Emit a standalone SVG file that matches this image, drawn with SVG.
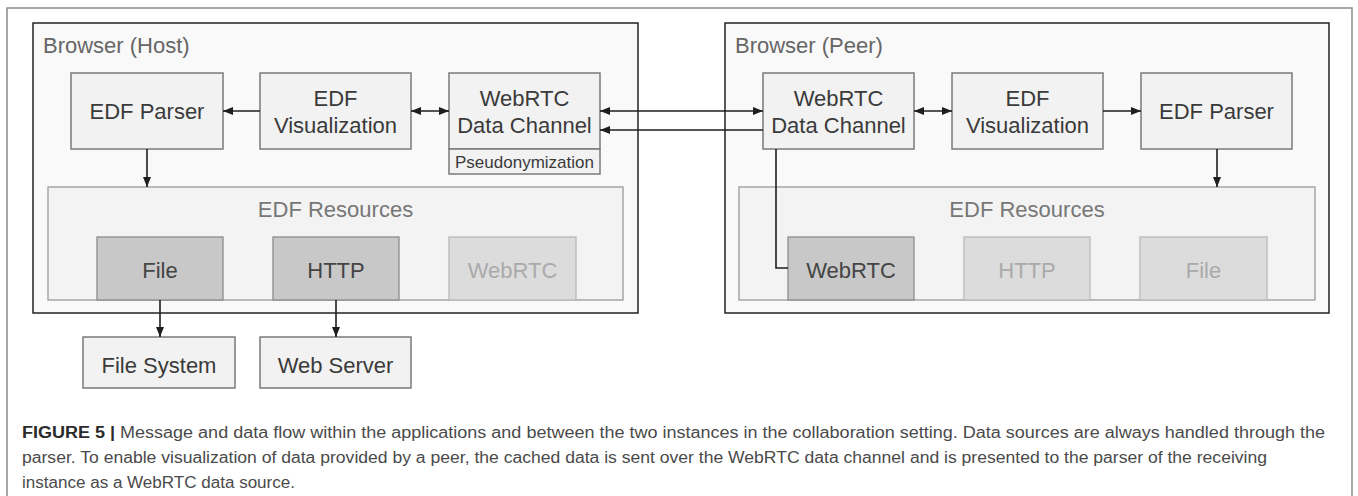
<svg xmlns="http://www.w3.org/2000/svg" width="1358" height="496" viewBox="0 0 1358 496">
<style>
text{font-family:"Liberation Sans",Arial,sans-serif}
.frame{fill:#ffffff;stroke:#8a8a8a;stroke-width:1.5}
.browser{fill:#f9f9f9;stroke:#222;stroke-width:1.5}
.btitle{font-size:22px;fill:#666}
.node{fill:#f2f2f2;stroke:#7a7a7a;stroke-width:1.5}
.nt{font-size:22px;fill:#3a3a3a;text-anchor:middle}
.small{font-size:17px;fill:#3a3a3a;text-anchor:middle}
.res{fill:#f3f3f3;stroke:#9a9a9a;stroke-width:1.3}
.rt{font-size:22px;fill:#777;text-anchor:middle}
.on{fill:#c8c8c8;stroke:#8c8c8c;stroke-width:1.3}
.ont{font-size:22px;fill:#444;text-anchor:middle}
.off{fill:#dcdcdc;stroke:#b8b8b8;stroke-width:1.3}
.offt{font-size:22px;fill:#aaa;text-anchor:middle}
.conn line,.conn path{stroke:#1e1e1e;stroke-width:1.6;fill:none}
.cap{font-size:16px;fill:#4a4a4a}
.capb{font-weight:bold;fill:#2a2a2a}
</style>
<defs>
<marker id="ah" viewBox="0 0 10 8" refX="10" refY="4" markerWidth="10" markerHeight="8" markerUnits="userSpaceOnUse" orient="auto-start-reverse">
<path d="M0,0 L10,4 L0,8 z" fill="#1e1e1e"/>
</marker>
</defs>
<rect class="frame" x="7" y="8" width="1345" height="500"/>

<g id="host">
<rect class="browser" x="33" y="23" width="605" height="290"/>
<text class="btitle" x="43" y="53">Browser (Host)</text>
</g>
<g id="peer">
<rect class="browser" x="725" y="23" width="604" height="290"/>
<text class="btitle" x="735" y="53">Browser (Peer)</text>
</g>

<g id="host-parser">
<rect class="node" x="71" y="73" width="152" height="76"/>
<text class="nt" x="147" y="119">EDF Parser</text>
</g>
<g id="host-vis">
<rect class="node" x="260" y="73" width="151" height="76"/>
<text class="nt" x="335.5" y="106">EDF</text>
<text class="nt" x="335.5" y="133">Visualization</text>
</g>
<g id="host-webrtc">
<rect class="node" x="449" y="73" width="151" height="76"/>
<text class="nt" x="524.5" y="106">WebRTC</text>
<text class="nt" x="524.5" y="133">Data Channel</text>
<rect class="node" x="449" y="149" width="151" height="25"/>
<text class="small" x="524.5" y="168">Pseudonymization</text>
</g>
<g id="host-resources">
<rect class="res" x="48" y="187" width="575" height="113"/>
<text class="rt" x="335.5" y="217">EDF Resources</text>
</g>
<g id="host-file">
<rect class="on" x="97" y="237" width="126" height="63"/>
<text class="ont" x="160" y="278">File</text>
</g>
<g id="host-http">
<rect class="on" x="273" y="237" width="126" height="63"/>
<text class="ont" x="336" y="278">HTTP</text>
</g>
<g id="host-webrtc-res">
<rect class="off" x="449" y="237" width="127" height="63"/>
<text class="offt" x="512.5" y="278">WebRTC</text>
</g>
<g id="filesystem">
<rect class="node" x="83" y="337" width="152" height="51"/>
<text class="nt" x="159" y="373">File System</text>
</g>
<g id="webserver">
<rect class="node" x="260" y="337" width="151" height="51"/>
<text class="nt" x="335.5" y="373">Web Server</text>
</g>

<g id="peer-webrtc">
<rect class="node" x="763" y="73" width="151" height="76"/>
<text class="nt" x="838.5" y="106">WebRTC</text>
<text class="nt" x="838.5" y="133">Data Channel</text>
</g>
<g id="peer-vis">
<rect class="node" x="952" y="73" width="151" height="76"/>
<text class="nt" x="1027.5" y="106">EDF</text>
<text class="nt" x="1027.5" y="133">Visualization</text>
</g>
<g id="peer-parser">
<rect class="node" x="1141" y="73" width="151" height="76"/>
<text class="nt" x="1216.5" y="119">EDF Parser</text>
</g>
<g id="peer-resources">
<rect class="res" x="739" y="187" width="576" height="113"/>
<text class="rt" x="1027" y="217">EDF Resources</text>
</g>
<g id="peer-webrtc-res">
<rect class="on" x="788" y="237" width="126" height="63"/>
<text class="ont" x="851" y="278">WebRTC</text>
</g>
<g id="peer-http">
<rect class="off" x="964" y="237" width="126" height="63"/>
<text class="offt" x="1027" y="278">HTTP</text>
</g>
<g id="peer-file">
<rect class="off" x="1140" y="237" width="127" height="63"/>
<text class="offt" x="1203.5" y="278">File</text>
</g>

<g id="connectors" class="conn">
<line x1="260" y1="111" x2="223" y2="111" marker-end="url(#ah)"/>
<line x1="411" y1="111" x2="449" y2="111" marker-start="url(#ah)" marker-end="url(#ah)"/>
<line x1="147" y1="149" x2="147" y2="187" marker-end="url(#ah)"/>
<line x1="160" y1="300" x2="160" y2="337" marker-end="url(#ah)"/>
<line x1="336" y1="300" x2="336" y2="337" marker-end="url(#ah)"/>
<line x1="600" y1="111" x2="763" y2="111" marker-start="url(#ah)" marker-end="url(#ah)"/>
<line x1="763" y1="130" x2="600" y2="130" marker-end="url(#ah)"/>
<line x1="914" y1="111" x2="952" y2="111" marker-start="url(#ah)" marker-end="url(#ah)"/>
<line x1="1103" y1="111" x2="1141" y2="111" marker-end="url(#ah)"/>
<line x1="1217" y1="149" x2="1217" y2="187" marker-end="url(#ah)"/>
<path d="M776,149 V268 H788"/>
</g>

<g id="caption">
<text class="cap" x="22" y="438" textLength="1303" lengthAdjust="spacingAndGlyphs"><tspan class="capb">FIGURE 5 |</tspan> Message and data flow within the applications and between the two instances in the collaboration setting. Data sources are always handled through the</text>
<text class="cap" x="22" y="463" textLength="1245" lengthAdjust="spacingAndGlyphs">parser. To enable visualization of data provided by a peer, the cached data is sent over the WebRTC data channel and is presented to the parser of the receiving</text>
<text class="cap" x="22" y="488" textLength="273" lengthAdjust="spacingAndGlyphs">instance as a WebRTC data source.</text>
</g>
</svg>
